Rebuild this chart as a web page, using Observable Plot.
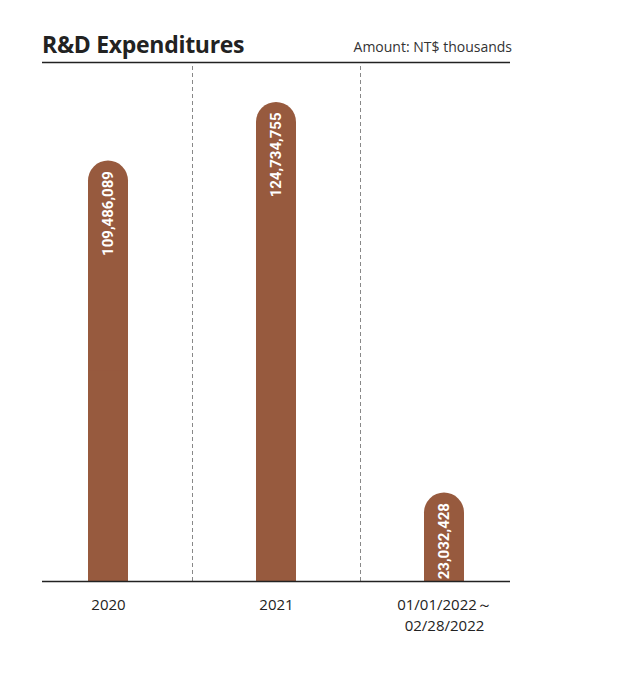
<!DOCTYPE html>
<html><head><meta charset="utf-8">
<script src="https://cdn.jsdelivr.net/npm/d3@7"></script>
<script src="https://cdn.jsdelivr.net/npm/@observablehq/plot@0.6"></script>
<style>
body{margin:0;background:#fff;font-family:"Open Sans",sans-serif;}
#wrap{position:relative;width:640px;height:674px;}
#title{position:absolute;left:42px;top:28px;font:bold 23px "Open Sans",sans-serif;color:#222;letter-spacing:-0.3px}
#unit{position:absolute;right:128px;top:37px;font:14px "Open Sans",sans-serif;color:#333}
</style></head><body>
<div id="wrap"><div id="title">R&amp;D Expenditures</div><div id="unit">Amount: NT$ thousands</div></div>
<script>
const periods = ["2020","2021","2022"];
const periodLabels = ["2020","2021","01/01/2022～\n02/28/2022"];
const values = [109486089, 124734755, 23032428];
const data = periods.map((p,i)=>({p, v: values[i], label: d3.format(",")(values[i])}));
const yMax = 135150000;
const color = "#975a3e";
const chart = Plot.plot({
  width: 640, height: 674,
  marginTop: 62, marginBottom: 93, marginLeft: 24, marginRight: 112,
  x: {domain: periods, padding: 0, label: null, axis: null},
  y: {domain: [0, yMax], axis: null},
  style: {fontSize: "15px", fontFamily: "Open Sans, sans-serif", color: "#222"},
  marks: [
    Plot.ruleX(["2020","2021"], {dx: 84, y1: 0, y2: yMax, stroke: "#888", strokeDasharray: "4,3", strokeWidth: 1}),
    Plot.barY(data, {x: "p", y: "v", fill: color, insetLeft: 64, insetRight: 64, rx: 20}),
    Plot.barY(data, {x: "p", y: d=>d.v/2, fill: color, insetLeft: 64, insetRight: 64}),
    Plot.text(data, {x: "p", y: "v", text: "label", rotate: -90, textAnchor: "end", dy: 10, fill: "white",
      fontWeight: "bold", fontSize: 15, fontFamily: "Liberation Sans Narrow, Roboto, sans-serif"}),
    Plot.axisX({domain: periods, tickSize: 0, tickPadding: 14, label: null, lineHeight: 1.4,
      fontSize: 15, tickFormat: (d,i)=>periodLabels[i]}),
    Plot.ruleY([0], {insetLeft: 18, insetRight: 18, stroke: "#222", strokeWidth: 1.5}),
    Plot.ruleY([yMax], {insetLeft: 18, insetRight: 18, stroke: "#222", strokeWidth: 1.5})
  ]
});
chart.style.position = "absolute"; chart.style.left = "0"; chart.style.top = "0";
document.getElementById("wrap").prepend(chart);
</script></body></html>
